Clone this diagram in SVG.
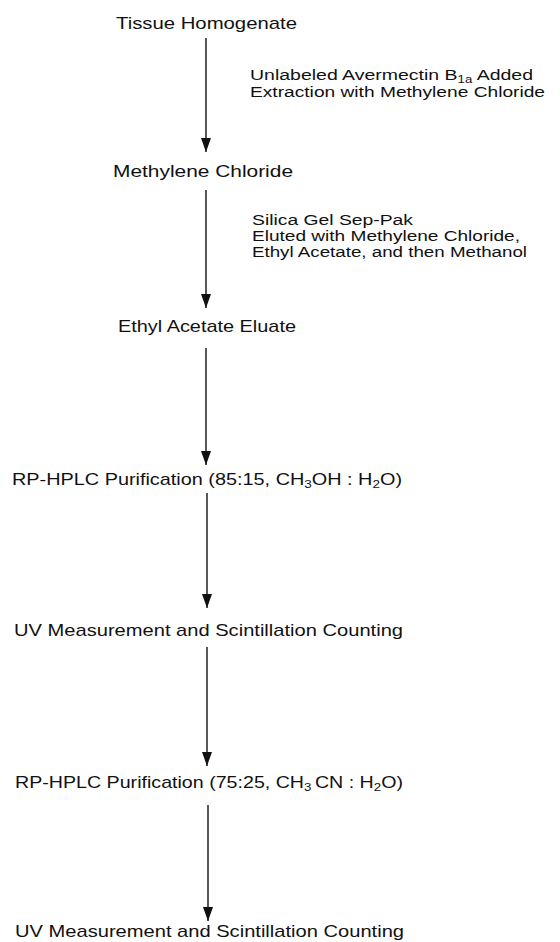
<svg xmlns="http://www.w3.org/2000/svg" width="560" height="942" viewBox="0 0 560 942">
<style>
  text { font-family: "Liberation Sans", Arial, Helvetica, sans-serif; font-size: 17px; fill: #111; }
  .lbl { font-size: 15.5px; }
  .sub { font-size: 11.5px; }
  .lbl .sub { font-size: 10.5px; }
  .conn line { stroke: #111; stroke-width: 1.4; fill: none; }
</style>
<defs>
  <marker id="ah" viewBox="0 0 14 10" refX="14" refY="5" markerWidth="14" markerHeight="10" markerUnits="userSpaceOnUse" orient="auto">
    <path d="M0,0 L14,5 L0,10 z" fill="#111"/>
  </marker>
</defs>
<rect width="560" height="942" fill="#fff"/>
<g id="connectors" class="conn">
  <line x1="206" y1="38" x2="206" y2="152" marker-end="url(#ah)"/>
  <line x1="206" y1="190" x2="206" y2="308" marker-end="url(#ah)"/>
  <line x1="206" y1="348" x2="206" y2="465" marker-end="url(#ah)"/>
  <line x1="207" y1="493" x2="207" y2="608" marker-end="url(#ah)"/>
  <line x1="207" y1="647" x2="207" y2="766" marker-end="url(#ah)"/>
  <line x1="208" y1="805" x2="208" y2="921" marker-end="url(#ah)"/>
</g>
<g id="label1">
  <text class="lbl" x="250" y="80" textLength="283" lengthAdjust="spacingAndGlyphs">Unlabeled Avermectin B<tspan class="sub" dy="2.5">1a</tspan><tspan dy="-2.5"> Added</tspan></text>
  <text class="lbl" x="250" y="97" textLength="295" lengthAdjust="spacingAndGlyphs">Extraction with Methylene Chloride</text>
</g>
<g id="label2">
  <text class="lbl" x="252" y="225" textLength="161" lengthAdjust="spacingAndGlyphs">Silica Gel Sep-Pak</text>
  <text class="lbl" x="252" y="241" textLength="268" lengthAdjust="spacingAndGlyphs">Eluted with Methylene Chloride,</text>
  <text class="lbl" x="252" y="257" textLength="275" lengthAdjust="spacingAndGlyphs">Ethyl Acetate, and then Methanol</text>
</g>
<g id="n1"><text x="116" y="29" textLength="181" lengthAdjust="spacingAndGlyphs">Tissue Homogenate</text></g>
<g id="n2"><text x="113" y="177" textLength="180" lengthAdjust="spacingAndGlyphs">Methylene Chloride</text></g>
<g id="n3"><text x="118" y="332" textLength="178" lengthAdjust="spacingAndGlyphs">Ethyl Acetate Eluate</text></g>
<g id="n4"><text x="12" y="485" textLength="390" lengthAdjust="spacingAndGlyphs">RP-HPLC Purification (85:15, CH<tspan class="sub" dy="3">3</tspan><tspan dy="-3">OH : H</tspan><tspan class="sub" dy="3">2</tspan><tspan dy="-3">O)</tspan></text></g>
<g id="n5"><text x="14" y="636" textLength="389" lengthAdjust="spacingAndGlyphs">UV Measurement and Scintillation Counting</text></g>
<g id="n6"><text x="15" y="788" textLength="388" lengthAdjust="spacingAndGlyphs">RP-HPLC Purification (75:25, CH<tspan class="sub" dy="3">3</tspan><tspan dy="-3" dx="3">CN : H</tspan><tspan class="sub" dy="3">2</tspan><tspan dy="-3">O)</tspan></text></g>
<g id="n7"><text x="15" y="937" textLength="389" lengthAdjust="spacingAndGlyphs">UV Measurement and Scintillation Counting</text></g>
</svg>
